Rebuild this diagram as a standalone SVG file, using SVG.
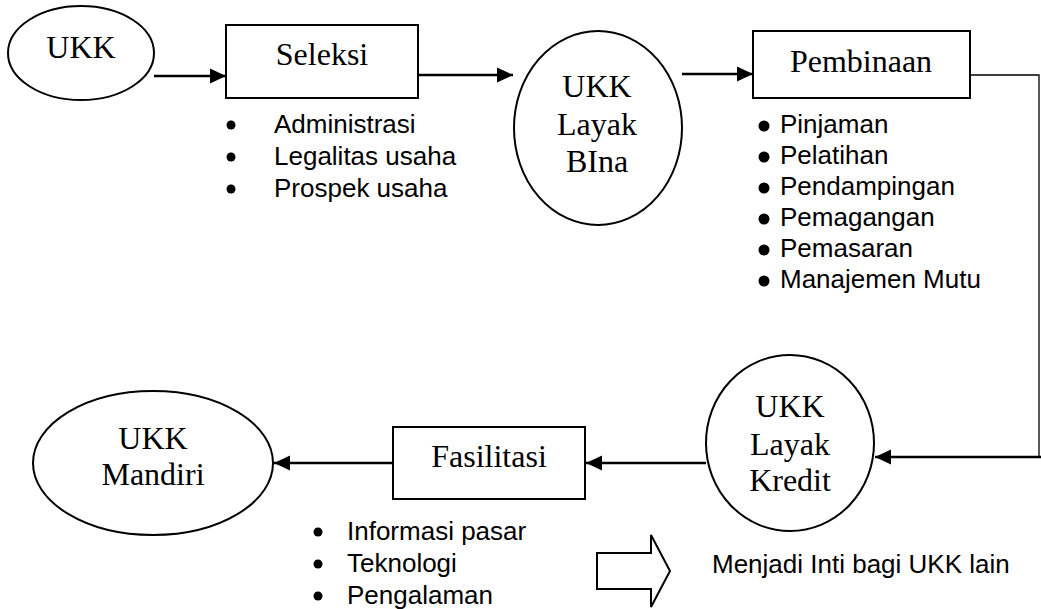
<svg xmlns="http://www.w3.org/2000/svg" width="1041" height="609" viewBox="0 0 1041 609">
  <style>
    .node { fill: #fff; stroke: #000; stroke-width: 2; }
    .lbl { font-family: "Liberation Serif", "Times New Roman", serif; font-size: 32px; fill: #000; text-anchor: middle; }
    .item { font-family: "Liberation Sans", Arial, sans-serif; font-size: 26px; fill: #000; }
    .conn { fill: none; stroke: #000; stroke-width: 2.5; }
    .thin { fill: none; stroke: #000; stroke-width: 1.3; }
    .dot { fill: #000; }
  </style>
  <defs>
    <marker id="ah" markerUnits="userSpaceOnUse" markerWidth="17" markerHeight="16" refX="16" refY="8" orient="auto">
      <path d="M0,0.5 L16,8 L0,15.5 z" fill="#000"/>
    </marker>
  </defs>
  <rect width="1041" height="609" fill="#fff"/>

  <g id="connectors">
    <path class="conn" d="M154,76 H226" marker-end="url(#ah)"/>
    <path class="conn" d="M418,75 H513" marker-end="url(#ah)"/>
    <path class="conn" d="M682,74 H753" marker-end="url(#ah)"/>
    <path class="thin" d="M970,75 H1039 V457"/>
    <path class="conn" d="M1041,457 H875" marker-end="url(#ah)"/>
    <path class="conn" d="M706,463 H586" marker-end="url(#ah)"/>
    <path class="conn" d="M393,463 H274" marker-end="url(#ah)"/>
  </g>

  <g id="n-ukk">
    <ellipse class="node" cx="81" cy="53" rx="73" ry="47"/>
    <text class="lbl" x="81" y="58">UKK</text>
  </g>

  <g id="n-seleksi">
    <rect class="node" x="226" y="25" width="192" height="73"/>
    <text class="lbl" x="322" y="65">Seleksi</text>
  </g>

  <g id="n-seleksi-items">
    <circle class="dot" cx="231" cy="125" r="4.5"/>
    <circle class="dot" cx="231" cy="157" r="4.5"/>
    <circle class="dot" cx="231" cy="189" r="4.5"/>
    <text class="item" x="274" y="133">Administrasi</text>
    <text class="item" x="274" y="165">Legalitas usaha</text>
    <text class="item" x="274" y="197">Prospek usaha</text>
  </g>

  <g id="n-layak-bina">
    <ellipse class="node" cx="598" cy="128" rx="84" ry="97"/>
    <text class="lbl" x="597" y="97">UKK</text>
    <text class="lbl" x="597" y="135">Layak</text>
    <text class="lbl" x="597" y="172">BIna</text>
  </g>

  <g id="n-pembinaan">
    <rect class="node" x="753" y="31" width="217" height="67"/>
    <text class="lbl" x="861" y="72">Pembinaan</text>
  </g>

  <g id="n-pembinaan-items">
    <circle class="dot" cx="764" cy="126" r="5.5"/>
    <circle class="dot" cx="764" cy="157" r="5.5"/>
    <circle class="dot" cx="764" cy="188" r="5.5"/>
    <circle class="dot" cx="764" cy="219" r="5.5"/>
    <circle class="dot" cx="764" cy="250" r="5.5"/>
    <circle class="dot" cx="764" cy="281" r="5.5"/>
    <text class="item" x="780" y="133">Pinjaman</text>
    <text class="item" x="780" y="164">Pelatihan</text>
    <text class="item" x="780" y="195">Pendampingan</text>
    <text class="item" x="780" y="226">Pemagangan</text>
    <text class="item" x="780" y="257">Pemasaran</text>
    <text class="item" x="780" y="288">Manajemen Mutu</text>
  </g>

  <g id="n-layak-kredit">
    <ellipse class="node" cx="790" cy="443" rx="84" ry="88"/>
    <text class="lbl" x="790" y="417">UKK</text>
    <text class="lbl" x="790" y="455">Layak</text>
    <text class="lbl" x="790" y="491">Kredit</text>
  </g>

  <g id="n-fasilitasi">
    <rect class="node" x="393" y="427" width="192" height="72"/>
    <text class="lbl" x="489" y="467">Fasilitasi</text>
  </g>

  <g id="n-fasilitasi-items">
    <circle class="dot" cx="318" cy="532" r="4.5"/>
    <circle class="dot" cx="318" cy="564" r="4.5"/>
    <circle class="dot" cx="318" cy="596" r="4.5"/>
    <text class="item" x="347" y="540">Informasi pasar</text>
    <text class="item" x="347" y="572">Teknologi</text>
    <text class="item" x="347" y="604">Pengalaman</text>
  </g>

  <g id="n-mandiri">
    <ellipse class="node" cx="153" cy="463" rx="120" ry="72"/>
    <text class="lbl" x="153" y="449">UKK</text>
    <text class="lbl" x="153" y="485">Mandiri</text>
  </g>

  <g id="n-block-arrow">
    <polygon points="597,553 651,553 651,535 670,571 651,607 651,589 597,589" fill="#fff" stroke="#000" stroke-width="2"/>
  </g>

  <g id="n-menjadi">
    <text class="item" x="712" y="573">Menjadi Inti bagi UKK lain</text>
  </g>
</svg>
